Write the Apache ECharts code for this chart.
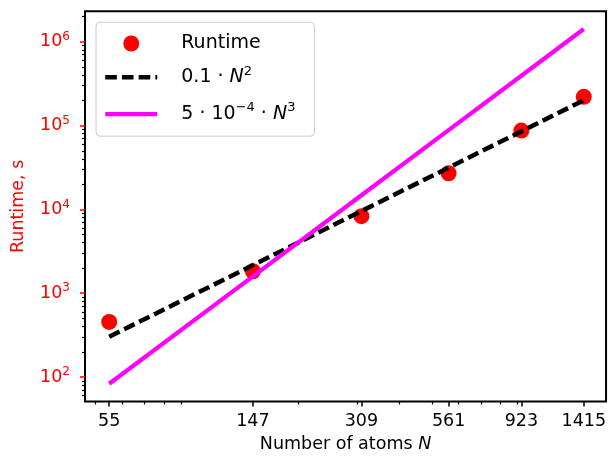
<!DOCTYPE html>
<html>
<head>
<meta charset="utf-8">
<script src="https://cdn.jsdelivr.net/npm/echarts@6/dist/echarts.min.js"></script>
<style>
  html, body { margin: 0; padding: 0; background: #ffffff; }
  #chart { width: 609px; height: 461px; }
</style>
</head>
<body>
<div id="chart"></div>
<script>
// ---- data ----
const atoms = [55, 147, 309, 561, 923, 1415];
const runtime = [455, 1830, 8300, 27000, 87000, 220000];
const quadFit = [302.5, 2160.9, 9548.1, 31472.1, 85192.9, 200222.5];      // 0.1*N^2
const cubicFit = [83.19, 1588.3, 14751.6, 88276.5, 393163.0, 1416593.9];   // 5e-4*N^3

const xTickLabels = [55, 147, 309, 561, 923, 1415];
const xMinorTicks = [50, 60, 70, 80, 90, 200, 300, 400, 500, 600, 700, 800, 900];
const yMajorTicks = [100, 1000, 10000, 100000, 1000000];
const yMinorTicks = [60, 70, 80, 90,
  200, 300, 400, 500, 600, 700, 800, 900,
  2000, 3000, 4000, 5000, 6000, 7000, 8000, 9000,
  20000, 30000, 40000, 50000, 60000, 70000, 80000, 90000,
  200000, 300000, 400000, 500000, 600000, 700000, 800000, 900000,
  2000000];

const xMin = 46.6, xMax = 1648;
const yMin = 51.1, yMax = 2306000;

const FONT = 'DejaVu Sans';
const RED = '#ff0000';
const DASH = [11.6, 5.1];

function pairs(xs, ys) { return xs.map((x, i) => [x, ys[i]]); }

const chart = echarts.init(document.getElementById('chart'), null, { renderer: 'canvas' });

const legendNames = {
  'Runtime': '{sp| }{t|Runtime}',
  'quad': '{sp| }{t|0.1 · }{i|N}{s|2}',
  'cubic': '{sp| }{t|5 · 10}{s|−4}{t| · }{i|N}{s|3}'
};

const option = {
  animation: false,
  backgroundColor: '#ffffff',
  grid: {
    left: 84, right: 2.5, top: 11.3, bottom: 59.5,
    show: true, borderColor: '#000000', borderWidth: 2, backgroundColor: 'transparent'
  },
  legend: {
    orient: 'vertical',
    left: 96, top: 22.3,
    padding: [11.7, 19, 9.6, 7],
    itemWidth: 52, itemHeight: 16, itemGap: 11.8,
    backgroundColor: 'rgba(255,255,255,0.8)',
    borderColor: '#cccccc', borderWidth: 1, borderRadius: 4,
    data: [
      { name: 'Runtime' },
      { name: 'quad', itemStyle: { opacity: 0 }, lineStyle: { color: '#000000', width: 4.5, type: DASH, cap: 'butt' } },
      { name: 'cubic', itemStyle: { opacity: 0 }, lineStyle: { color: '#ff00ff', width: 4.2, cap: 'butt' } }
    ],
    formatter: name => legendNames[name],
    textStyle: {
      fontFamily: FONT, fontSize: 19, color: '#000',
      rich: {
        sp: { width: 19, fontSize: 19, lineHeight: 22 },
        t: { fontFamily: FONT, fontSize: 19, lineHeight: 22, color: '#000' },
        i: { fontFamily: FONT, fontSize: 19, lineHeight: 22, fontStyle: 'italic', color: '#000' },
        s: { fontFamily: FONT, fontSize: 13, lineHeight: 10, padding: [0, 0, 12, 0], color: '#000' }
      }
    }
  },
  xAxis: [
    {
      type: 'log', logBase: 10, min: xMin, max: xMax, position: 'bottom',
      axisLine: { show: false },
      splitLine: { show: false },
      minorTick: { show: false },
      axisTick: { show: true, customValues: xTickLabels, length: 5, lineStyle: { color: '#000', width: 1.5 } },
      axisLabel: {
        customValues: xTickLabels, formatter: v => String(Math.round(v)),
        fontFamily: FONT, fontSize: 17.5, lineHeight: 20, color: '#000', margin: 9.5
      },
      name: '{a|Number of atoms }{i|N}',
      nameLocation: 'middle', nameGap: 30.5,
      nameTextStyle: {
        rich: {
          a: { fontFamily: FONT, fontSize: 17.5, lineHeight: 20, color: '#000' },
          i: { fontFamily: FONT, fontSize: 17.5, lineHeight: 20, fontStyle: 'italic', color: '#000' }
        }
      }
    },
    {
      type: 'log', logBase: 10, min: xMin, max: xMax, position: 'bottom',
      axisLine: { show: false },
      splitLine: { show: false },
      axisLabel: { show: false, customValues: xMinorTicks },
      axisTick: { show: true, customValues: xMinorTicks, length: 3, lineStyle: { color: '#000', width: 1.2 } }
    }
  ],
  yAxis: [
    {
      type: 'log', logBase: 10, min: yMin, max: yMax, position: 'left',
      axisLine: { show: false },
      splitLine: { show: false },
      minorTick: { show: false },
      axisTick: { show: true, customValues: yMajorTicks, length: 5, lineStyle: { color: RED, width: 1.5 } },
      axisLabel: {
        customValues: yMajorTicks,
        formatter: v => '{b|10}{s|' + Math.round(Math.log10(v)) + '}',
        margin: 15,
        rich: {
          b: { fontFamily: FONT, fontSize: 17.5, lineHeight: 20, color: RED },
          s: { fontFamily: FONT, fontSize: 12, lineHeight: 10, padding: [0, 0, 10, 0], color: RED }
        }
      },
      name: 'Runtime, s',
      nameLocation: 'middle', nameGap: 57, nameRotate: 90,
      nameTextStyle: { fontFamily: FONT, fontSize: 17.5, lineHeight: 20, color: RED }
    },
    {
      type: 'log', logBase: 10, min: yMin, max: yMax, position: 'left',
      axisLine: { show: false },
      splitLine: { show: false },
      axisLabel: { show: false, customValues: yMinorTicks },
      axisTick: { show: true, customValues: yMinorTicks, length: 3, lineStyle: { color: '#000', width: 1.2 } }
    }
  ],
  series: [
    {
      name: 'Runtime', type: 'scatter', xAxisIndex: 0, yAxisIndex: 0,
      data: pairs(atoms, runtime),
      symbol: 'circle', symbolSize: 16,
      itemStyle: { color: RED, opacity: 1 },
      z: 2
    },
    {
      name: 'quad', type: 'line', xAxisIndex: 0, yAxisIndex: 0,
      data: pairs(atoms, quadFit),
      symbol: 'none', showSymbol: false,
      lineStyle: { color: '#000000', width: 4.5, type: DASH, cap: 'butt' },
      itemStyle: { color: '#000000' },
      z: 3
    },
    {
      name: 'cubic', type: 'line', xAxisIndex: 0, yAxisIndex: 0,
      data: pairs(atoms, cubicFit),
      symbol: 'none', showSymbol: false,
      lineStyle: { color: '#ff00ff', width: 4.2, cap: 'butt' },
      itemStyle: { color: '#ff00ff' },
      z: 4
    }
  ]
};

chart.setOption(option);
</script>
</body>
</html>
